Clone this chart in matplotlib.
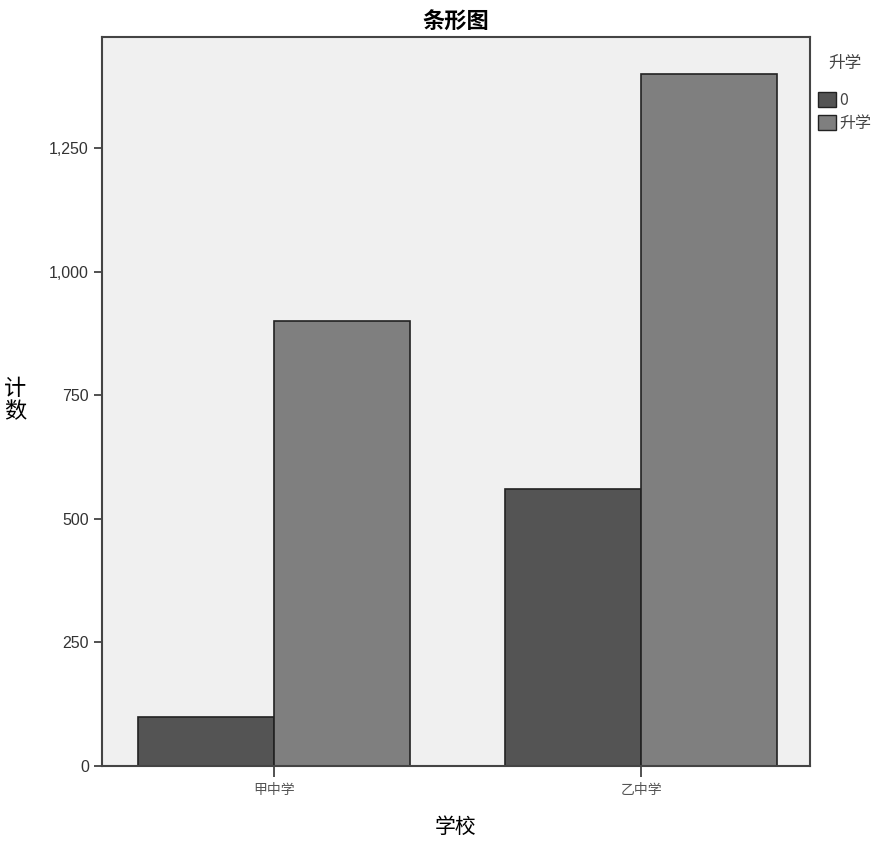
import matplotlib
matplotlib.use("Agg")
import matplotlib.pyplot as plt
import numpy as np
from matplotlib.ticker import FuncFormatter
from matplotlib.patches import Patch

plt.rcParams['font.family'] = ['Noto Sans CJK SC', 'DejaVu Sans']

schools = ["甲中学", "乙中学"]
series_names = ["0", "升学"]
values_0 = [100, 560]
values_up = [900, 1400]
colors = ["#545454", "#7f7f7f"]

fig = plt.figure(figsize=(8.8, 8.46), dpi=100)
ax = fig.add_axes([0.1159, 0.0946, 0.8046, 0.8617])
ax.set_facecolor("#f0f0f0")

x = np.arange(len(schools))
w = 0.37
ax.bar(x - w/2, values_0, width=w, color=colors[0], edgecolor="#222222", linewidth=1.2, label=series_names[0], zorder=2)
ax.bar(x + w/2, values_up, width=w, color=colors[1], edgecolor="#222222", linewidth=1.2, label=series_names[1], zorder=2)

ax.set_xlim(-0.469, 1.46)
ax.set_ylim(0, 1475)
ax.set_yticks([0, 250, 500, 750, 1000, 1250])
ax.yaxis.set_major_formatter(FuncFormatter(lambda v, p: f"{int(v):,}"))
ax.set_xticks(x)
ax.set_xticklabels(schools, color="#555555", fontsize=10)
ax.tick_params(axis='y', labelsize=11.5, length=6, width=1.2, color="#333333", labelcolor="#333333")
ax.tick_params(axis='x', length=8, width=1.2, color="#333333", pad=4)
for lab in ax.get_yticklabels():
    lab.set_family(['Liberation Sans', 'DejaVu Sans'])
for s in ax.spines.values():
    s.set_linewidth(1.5)
    s.set_color("#444444")

ax.set_title("条形图", fontsize=16, fontweight='bold', pad=6)
ax.set_xlabel("学校", fontsize=15, labelpad=14)
fig.text(0.017, 0.527, "计\n数", fontsize=16, ha='center', va='center', linespacing=1.0)

handles = [Patch(facecolor=colors[0], edgecolor="#222222"), Patch(facecolor=colors[1], edgecolor="#222222")]
leg = fig.legend(handles, series_names, title="升学", loc='upper left', bbox_to_anchor=(0.9225, 0.942),
                 frameon=False, fontsize=11.5, title_fontsize=12, handlelength=1.1, handleheight=1.1,
                 handletextpad=0.2, labelspacing=0.35, borderaxespad=0, alignment='center')
leg._legend_box.sep = 14
for t in leg.get_texts():
    t.set_color("#444444")
leg.get_title().set_color("#444444")

fig.savefig("out.png", dpi=100)
